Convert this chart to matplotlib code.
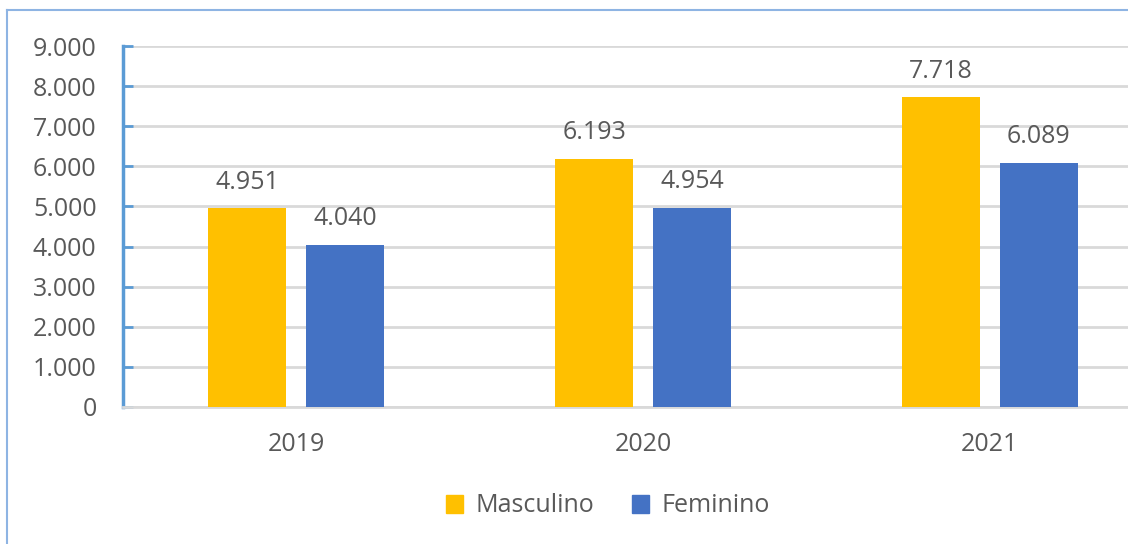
import matplotlib.pyplot as plt
import numpy as np
from matplotlib.lines import Line2D
from matplotlib.patches import Patch

years = ["2019", "2020", "2021"]
masculino = [4951, 6193, 7718]
feminino = [4040, 4954, 6089]
labels_m = ["4.951", "6.193", "7.718"]
labels_f = ["4.040", "4.954", "6.089"]
yticks = [0, 1000, 2000, 3000, 4000, 5000, 6000, 7000, 8000, 9000]
ytick_labels = ["0", "1.000", "2.000", "3.000", "4.000", "5.000", "6.000", "7.000", "8.000", "9.000"]

plt.rcParams['font.family'] = ['Open Sans', 'DejaVu Sans']
txt = '#595959'
fs = 18

W, H = 1128, 544
fig = plt.figure(figsize=(W / 100, H / 100), dpi=100)
# axes spans pixel x 123..1163 (cropped at right), y 46..407
ax = fig.add_axes([123 / W, (H - 407) / H, (1163 - 123) / W, 361 / H])

x = np.arange(len(years))
bw = 0.225
off = 0.141
b1 = ax.bar(x - off, masculino, bw, color='#ffc000', zorder=3)
b2 = ax.bar(x + off, feminino, bw, color='#4472c4', zorder=3)

for bars, labs in ((b1, labels_m), (b2, labels_f)):
    for b, l in zip(bars, labs):
        ax.annotate(l, (b.get_x() + b.get_width() / 2, b.get_height()),
                    xytext=(0, 10), textcoords='offset points',
                    ha='center', va='bottom', fontsize=fs, color=txt)

ax.set_xlim(-0.5, 2.5)
ax.set_ylim(0, 9000)
ax.set_yticks(yticks)
ax.set_yticklabels(ytick_labels)
ax.set_xticks(x)
ax.set_xticklabels(years)
ax.tick_params(axis='y', direction='in', length=7, width=2, color='#5b9bd5',
               labelsize=fs, labelcolor=txt, pad=19)
ax.tick_params(axis='x', length=0, labelsize=fs, labelcolor=txt, pad=18)
ax.grid(axis='y', color='#d9d9d9', linewidth=2, zorder=0)
for s in ('top', 'right'):
    ax.spines[s].set_visible(False)
ax.spines['left'].set_color('#5b9bd5')
ax.spines['left'].set_linewidth(2.5)
ax.spines['bottom'].set_color('#d9d9d9')
ax.spines['bottom'].set_linewidth(2)

handles = [Patch(color='#ffc000', label='Masculino'),
           Patch(color='#4472c4', label='Feminino')]
fig.legend(handles=handles, loc='center', bbox_to_anchor=(608 / W, 1 - 506 / H),
           ncol=2, frameon=False, fontsize=fs, handlelength=0.7, handleheight=0.7,
           handletextpad=0.5, columnspacing=1.5, labelcolor=txt)

# outer chart frame (left and top edges)
fig.add_artist(Line2D([7 / W, 7 / W], [0, 1 - 10 / H], transform=fig.transFigure,
                      color='#8eb4e3', linewidth=1.5))
fig.add_artist(Line2D([7 / W, 1], [1 - 10 / H, 1 - 10 / H], transform=fig.transFigure,
                      color='#8eb4e3', linewidth=1.5))

fig.savefig('out.png', dpi=100)
